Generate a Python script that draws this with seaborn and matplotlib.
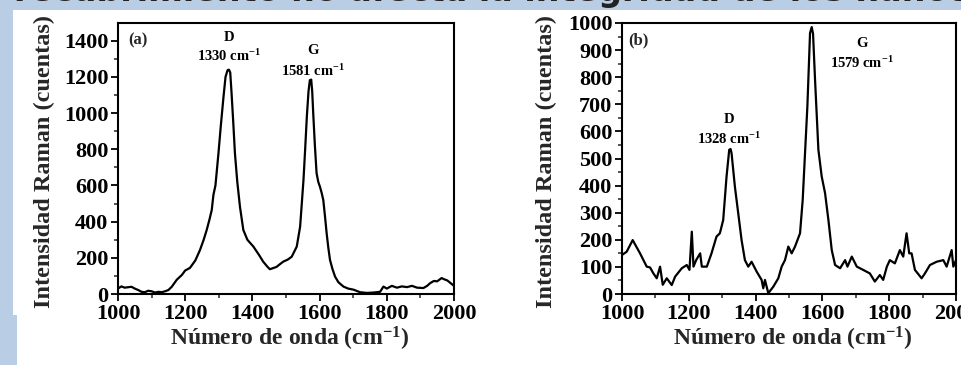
import numpy as np
import pandas as pd
import matplotlib
matplotlib.use("Agg")
import matplotlib.pyplot as plt
from matplotlib.patches import Rectangle
from matplotlib.ticker import MultipleLocator
import seaborn as sns

# ---------------- data ----------------
wn_a = [1000, 1010, 1020, 1040, 1050, 1060, 1070, 1080, 1090, 1100, 1110, 1120, 1130,
        1140, 1150, 1160, 1175, 1190, 1200, 1214, 1230, 1244, 1255, 1264, 1272, 1279,
        1284, 1290, 1299, 1306, 1314, 1320, 1326, 1330, 1334, 1338, 1343, 1348, 1355,
        1363, 1373, 1385, 1403, 1420, 1432, 1445, 1452, 1460, 1472, 1482, 1492, 1505,
        1517, 1532, 1542, 1547, 1552, 1557, 1562, 1567, 1571, 1575, 1578, 1581, 1586,
        1591, 1596, 1601, 1606, 1611, 1616, 1621, 1626, 1631, 1638, 1646, 1656, 1671,
        1685, 1701, 1720, 1740, 1760, 1780, 1790, 1800, 1815, 1830, 1845, 1860, 1875,
        1890, 1909, 1920, 1929, 1940, 1950, 1963, 1970, 1980, 1990, 2000]
int_a = [30, 42, 35, 40, 30, 22, 12, 10, 18, 15, 8, 12, 10, 15, 22, 40, 79, 105, 130,
         144, 185, 243, 300, 354, 410, 464, 548, 600, 778, 930, 1090, 1200, 1237, 1240,
         1225, 1110, 950, 778, 620, 482, 354, 300, 262, 215, 179, 150, 137, 142, 150,
         165, 179, 190, 206, 262, 372, 500, 630, 800, 980, 1120, 1182, 1185, 1120, 1000,
         820, 668, 620, 593, 560, 519, 430, 335, 255, 188, 140, 96, 65, 41, 30, 24, 10,
         6, 8, 12, 41, 30, 45, 35, 42, 38, 45, 35, 33, 45, 60, 72, 70, 88, 82, 75, 60, 45]

wn_b = [1000, 1014, 1032, 1054, 1074, 1084, 1094, 1104, 1114, 1122, 1134, 1149, 1159,
        1179, 1194, 1202, 1209, 1214, 1222, 1234, 1239, 1254, 1268, 1283, 1293, 1303,
        1313, 1321, 1325, 1328, 1338, 1348, 1358, 1368, 1378, 1388, 1403, 1418, 1423,
        1428, 1438, 1453, 1468, 1478, 1488, 1498, 1508, 1518, 1533, 1541, 1548, 1555,
        1563, 1568, 1572, 1578, 1588, 1598, 1608, 1618, 1628, 1638, 1653, 1668, 1675,
        1688, 1703, 1722, 1742, 1757, 1772, 1782, 1793, 1802, 1817, 1832, 1842, 1852,
        1860, 1867, 1877, 1897, 1907, 1922, 1942, 1962, 1972, 1987, 1992, 2000]
int_b = [144, 156, 199, 150, 101, 98, 76, 58, 101, 34, 58, 33, 64, 95, 107, 89, 230,
         101, 125, 150, 101, 101, 150, 212, 224, 273, 433, 532, 535, 520, 396, 298, 199,
         125, 101, 119, 83, 52, 21, 52, 3, 27, 58, 101, 125, 175, 150, 175, 224, 347,
         520, 692, 963, 985, 960, 790, 532, 433, 372, 273, 162, 107, 95, 125, 101, 138,
         101, 89, 76, 46, 70, 52, 101, 125, 113, 162, 138, 224, 150, 150, 89, 58, 76,
         107, 119, 125, 101, 162, 101, 125]

xticks = [1000, 1200, 1400, 1600, 1800, 2000]
yticks_a = [0, 200, 400, 600, 800, 1000, 1200, 1400]
yticks_b = [0, 100, 200, 300, 400, 500, 600, 700, 800, 900, 1000]

df_a = pd.DataFrame({"wn": wn_a, "I": int_a})
df_b = pd.DataFrame({"wn": wn_b, "I": int_b})

# ---------------- style ----------------
sns.set_theme(style="ticks")
plt.rcParams["font.family"] = ["Liberation Serif", "DejaVu Serif"]
plt.rcParams["font.weight"] = "bold"
plt.rcParams["mathtext.fontset"] = "custom"
plt.rcParams["mathtext.rm"] = "Liberation Serif:bold"
plt.rcParams["mathtext.bf"] = "Liberation Serif:bold"
plt.rcParams["mathtext.default"] = "bf"

slide_blue = "#b9cde4"
fig = plt.figure(figsize=(9.61, 3.65), dpi=100, facecolor="white")

# slide decoration
fig.patches.append(Rectangle((0, 1 - 9.5 / 365), 1, 9.5 / 365, transform=fig.transFigure,
                             facecolor=slide_blue, edgecolor="none", zorder=0))
fig.patches.append(Rectangle((0, 0), 13 / 961, 1, transform=fig.transFigure,
                             facecolor=slide_blue, edgecolor="none", zorder=0))
fig.patches.append(Rectangle((0, 0), 17 / 961, 50 / 365, transform=fig.transFigure,
                             facecolor=slide_blue, edgecolor="none", zorder=0))
fig.text(14 / 961, 1 - 1.5 / 365, "recubrimiento no afecta la integridad de los nanotubos",
         family="DejaVu Sans", weight="bold", fontsize=24, color="#222222",
         va="baseline", ha="left")

ax_a = fig.add_axes([118 / 961, 1 - 294 / 365, 336 / 961, 271 / 365])
ax_b = fig.add_axes([622 / 961, 1 - 294 / 365, 334 / 961, 271 / 365])

sns.lineplot(data=df_a, x="wn", y="I", ax=ax_a, color="black", linewidth=1.6)
sns.lineplot(data=df_b, x="wn", y="I", ax=ax_b, color="black", linewidth=1.6)

for ax, yt, ymax, yminor, ylx in [(ax_a, yticks_a, 1498, 100, -0.188),
                                  (ax_b, yticks_b, 1000, 50, -0.195)]:
    ax.set_xlim(1000, 2000)
    ax.set_ylim(0, ymax)
    ax.set_xticks(xticks)
    ax.set_yticks(yt)
    ax.xaxis.set_minor_locator(MultipleLocator(100))
    ax.yaxis.set_minor_locator(MultipleLocator(yminor))
    ax.tick_params(which="major", direction="out", length=5, width=1.3, labelsize=16,
                   pad=2, colors="black", top=False, right=False)
    ax.tick_params(which="minor", direction="out", length=3, width=1.1,
                   top=False, right=False)
    for t in ax.get_xticklabels() + ax.get_yticklabels():
        t.set_fontweight("bold")
    for s in ax.spines.values():
        s.set_visible(True)
        s.set_linewidth(1.5)
        s.set_color("black")
    ax.set_xlabel(r"Número de onda (cm$^{-1}$)", fontsize=17, fontweight="bold")
    ax.set_ylabel("Intensidad Raman (cuentas)", fontsize=17.5, fontweight="bold")
    ax.xaxis.set_label_coords(0.51, -0.115)
    ax.yaxis.set_label_coords(ylx, 0.49)
    ax.set_facecolor("white")

ann = dict(ha="center", va="center", fontsize=10.5, fontweight="bold", color="black")
ax_a.text(0.03, 0.935, "(a)", transform=ax_a.transAxes, ha="left", va="center",
          fontsize=12, fontweight="bold")
ax_a.text(1330, 1418, "D", **ann)
ax_a.text(1330, 1315, r"1330 cm$^{-1}$", **ann)
ax_a.text(1581, 1345, "G", **ann)
ax_a.text(1581, 1235, r"1581 cm$^{-1}$", **ann)

ax_b.text(0.02, 0.935, "(b)", transform=ax_b.transAxes, ha="left", va="center",
          fontsize=12, fontweight="bold")
ax_b.text(1320, 643, "D", **ann)
ax_b.text(1320, 570, r"1328 cm$^{-1}$", **ann)
ax_b.text(1718, 925, "G", **ann)
ax_b.text(1718, 852, r"1579 cm$^{-1}$", **ann)

fig.savefig("out.png", dpi=100, facecolor="white")
